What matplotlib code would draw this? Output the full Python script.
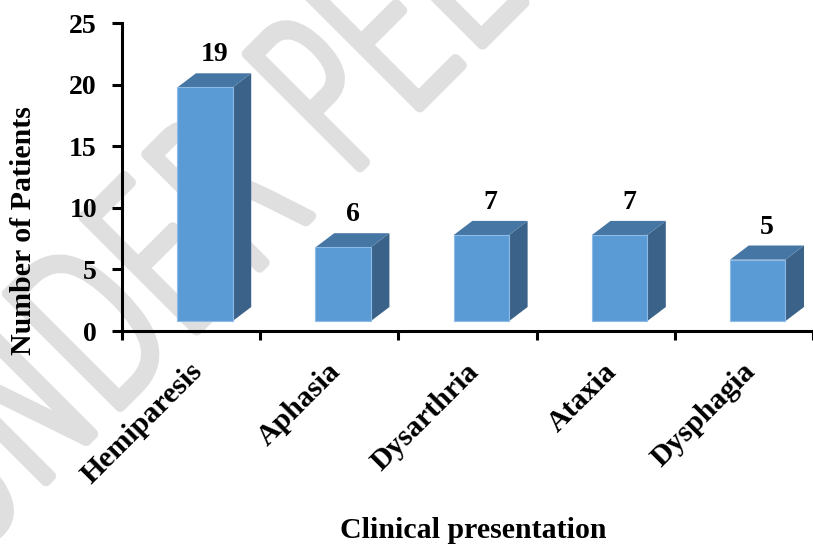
import math
import matplotlib
matplotlib.use("Agg")
import matplotlib.pyplot as plt
from matplotlib import font_manager as fm
from matplotlib.patches import Polygon, PathPatch
from matplotlib.textpath import TextPath
from matplotlib.font_manager import FontProperties
from matplotlib.transforms import Affine2D, IdentityTransform

categories = ["Hemiparesis", "Aphasia", "Dysarthria", "Ataxia", "Dysphagia"]
patients = [19, 6, 7, 7, 5]
y_ticks = [0, 5, 10, 15, 20, 25]
watermark = "UNDER PEER REVIEW"

plt.rcParams['font.family'] = ['Liberation Serif', 'DejaVu Serif']
plt.rcParams['font.weight'] = 'bold'

FRONT = '#5b9bd5'
SIDE = '#3b6389'
TOP = '#4676a3'


def lightest_font():
    # thinnest upright sans face on the system, for the watermark strokes
    best = None
    for f in fm.fontManager.ttflist:
        if f.name not in ('Roboto', 'Lato', 'Open Sans', 'Noto Sans', 'DejaVu Sans'):
            continue
        if f.style != 'normal' or 'Condensed' in f.fname:
            continue
        w = f.weight if isinstance(f.weight, int) else fm.weight_dict.get(f.weight, 400)
        if best is None or w < best[0]:
            best = (w, f.fname)
    return best


fig = plt.figure(figsize=(8.13, 5.44), dpi=100)
fig.patch.set_facecolor('white')

# faint watermark behind everything
w, fname = lightest_font()
prop = FontProperties(fname=fname)
cap = TextPath((0, 0), "H", size=1, prop=prop).get_extents().height
sy = 160 / cap
sx = 83 * 2.8 / TextPath((0, 0), "PEE", size=1, prop=prop).get_extents().width
xp = (TextPath((0, 0), "UNDER P", size=1, prop=prop).get_extents().x1
      - TextPath((0, 0), "P", size=1, prop=prop).get_extents().width)
a = math.radians(45)
ox = 360 - sx * xp * math.cos(a)
oy = (544 - 167) - sx * xp * math.sin(a)
lw = 7.5 if w <= 200 else (5 if w <= 300 else 1.5)
tp = TextPath((0, 0), watermark, size=1, prop=prop)
tr = Affine2D().scale(sx, sy).rotate_deg(45).translate(ox, oy)
wm = PathPatch(tr.transform_path(tp), facecolor='#dfdfdf', edgecolor='#dfdfdf',
               lw=lw, joinstyle='round', capstyle='round',
               transform=IdentityTransform(), zorder=-5)
fig.add_artist(wm)

ax = fig.add_axes([0.15006, 0.39154, 0.84994, 0.5653])
ax.patch.set_visible(False)

# pseudo-3D bars (Excel style)
dx, dy, base = 0.135, 1.15, 0.8
for i, v in enumerate(patients):
    x0, x1 = i + 0.4, i + 0.8
    t = v + base
    side = Polygon([(x1, base), (x1 + dx, base + dy), (x1 + dx, t + dy), (x1, t)],
                   closed=True, facecolor=SIDE, edgecolor='none', zorder=2, clip_on=False)
    top = Polygon([(x0, t), (x1, t), (x1 + dx, t + dy), (x0 + dx, t + dy)],
                  closed=True, facecolor=TOP, edgecolor='none', zorder=2, clip_on=False)
    front = Polygon([(x0, base), (x1, base), (x1, t), (x0, t)],
                    closed=True, facecolor=FRONT, edgecolor='#8dbbe6', lw=0.8,
                    zorder=3, clip_on=False)
    for p in (side, top, front):
        ax.add_patch(p)
    ax.annotate(str(v), xy=((x0 + x1 + dx) / 2, t + dy), xytext=(0, 8.5),
                textcoords='offset points', ha='center', va='baseline',
                fontsize=20, fontweight='bold')
    ax.annotate(categories[i], xy=(i + 0.59, 0), xycoords=('data', 'axes fraction'),
                xytext=(0, -30), textcoords='offset points', ha='right',
                va='baseline', rotation=45, rotation_mode='anchor',
                fontsize=21.5, fontweight='bold', annotation_clip=False)

ax.set_xlim(0, 4.94)
ax.set_ylim(0, 25)
ax.set_xticks(range(6))
ax.set_xticklabels([])
ax.set_yticks(y_ticks)
ax.set_yticklabels([str(t) for t in y_ticks], fontsize=20, fontweight='bold')
ax.tick_params(axis='x', length=6.5, width=2.2, direction='out')
ax.tick_params(axis='y', length=7, width=2.2, direction='out', pad=11)

for s in ('top', 'right'):
    ax.spines[s].set_visible(False)
for s in ('left', 'bottom'):
    ax.spines[s].set_linewidth(2.2)

fig.text(0.0283, 0.577, "Number of Patients", rotation=90, ha='center',
         va='center', fontsize=21.5, fontweight='bold')
fig.text(0.582, 0.011, "Clinical presentation", ha='center', va='baseline',
         fontsize=21.5, fontweight='bold')

fig.savefig("out.png", dpi=100)
